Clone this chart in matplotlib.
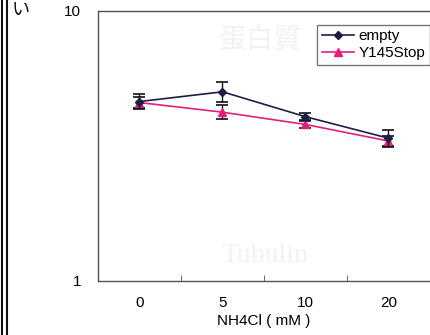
import matplotlib
matplotlib.use("Agg")
import matplotlib.pyplot as plt
from matplotlib.lines import Line2D

plt.rcParams['font.family'] = ['Liberation Sans', 'Noto Sans CJK JP', 'DejaVu Sans']

categories = ["0", "5", "10", "20"]
empty_vals = [4.62, 5.02, 4.06, 3.38]
empty_err = [0.30, 0.42, 0.12, 0.25]
y145_vals = [4.58, 4.22, 3.80, 3.30]
y145_err = [0.22, 0.25, 0.10, 0.15]
y_ticks = [1, 10]
y_tick_labels = ["1", "10"]
x_label = "NH4Cl ( mM )"

EMPTY_C = '#1c1f45'
Y145_C = '#e0207a'

W, H = 431, 335
fig = plt.figure(figsize=(W / 100, H / 100), dpi=100)
ax = fig.add_axes([98 / W, 1 - 281 / H, 332 / W, 270 / H])

x = list(range(len(categories)))
ax.errorbar(x, empty_vals, yerr=empty_err, color=EMPTY_C, marker='D', markersize=4,
            linewidth=1.2, capsize=4.5, capthick=1.2, elinewidth=1.0, ecolor='#111111',
            zorder=3)
ax.errorbar(x, y145_vals, yerr=y145_err, color=Y145_C, marker='^', markersize=6,
            linewidth=1.2, capsize=4.5, capthick=1.2, elinewidth=1.0, ecolor='#111111',
            zorder=2)

ax.set_yscale('log')
ax.set_ylim(1, 10)
ax.set_xlim(-0.5, len(categories) - 0.5)
ax.set_yticks(y_ticks)
ax.set_yticklabels(y_tick_labels, fontsize=11)
ax.yaxis.set_minor_locator(matplotlib.ticker.NullLocator())
ax.tick_params(axis='y', length=0, pad=12)
ax.set_xticks(x)
ax.set_xticklabels(categories, fontsize=11)
ax.tick_params(axis='x', which='major', length=0, pad=11)
ax.set_xticks([i + 0.5 for i in x[:-1]], minor=True)
ax.tick_params(axis='x', which='minor', direction='in', length=4, color='#555555')
ax.set_xlabel(x_label, fontsize=11, labelpad=3)

for s in ax.spines.values():
    s.set_color('#555555')
    s.set_linewidth(1.0)
ax.spines['right'].set_visible(False)

handles = [Line2D([], [], color=EMPTY_C, marker='D', markersize=4, linewidth=1.2),
           Line2D([], [], color=Y145_C, marker='^', markersize=6, linewidth=1.2)]
leg = ax.legend(handles, ['empty', 'Y145Stop'], loc='upper right', bbox_to_anchor=(1.0, 0.95),
                fontsize=11, fancybox=False, framealpha=1, edgecolor='#777777',
                handlelength=2.1, handletextpad=0.3, borderpad=0.3,
                labelspacing=0.2, borderaxespad=0.0)

# faint bleed-through text
fig.text(260 / W, 1 - 40 / H, "蛋白質", fontsize=20, color='#f2f2f2', ha='center', va='center',
         family=['Noto Sans CJK JP'], zorder=0)
fig.text(265 / W, 1 - 255 / H, "Tubulin", fontsize=20, color='#f2f2f2', ha='center', va='center',
         family=['Liberation Serif'], zorder=0)

# left page decoration
fig.add_artist(Line2D([2 / W, 2 / W], [0, 1], color='#111111', linewidth=1.5))
fig.add_artist(Line2D([7 / W, 7 / W], [0, 1], color='#111111', linewidth=1.5))
fig.text(12 / W, 1 - 1 / H, "い", fontsize=13, color='#111111', ha='left', va='top',
         family=['Noto Sans CJK JP'])

fig.savefig('out.png', dpi=100)
